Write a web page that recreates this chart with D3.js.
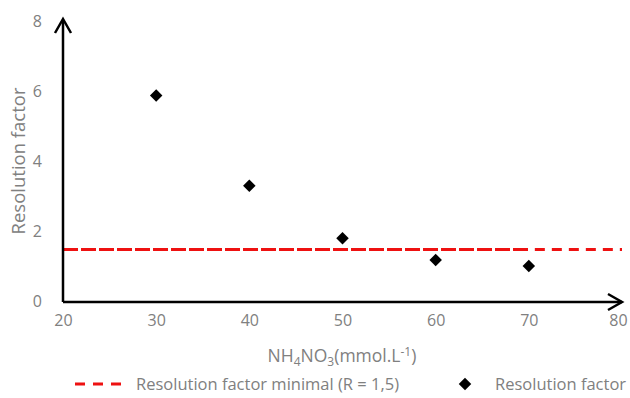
<!DOCTYPE html>
<html><head><meta charset="utf-8">
<script src="https://cdn.jsdelivr.net/npm/d3@7"></script>
<style>body{margin:0;background:#fff}text{font-family:"Open Sans","Liberation Sans",sans-serif;fill:#808080}</style>
</head><body><svg id="c" width="630" height="398"></svg>
<script>
const concentrations = [30, 40, 50, 60, 70];
const resolution = [5.9, 3.32, 1.82, 1.2, 1.03];
const minimalR = 1.5;
const minimalX = [20, 70, 80];
const xTicks = [20, 30, 40, 50, 60, 70, 80];
const yTicks = [0, 2, 4, 6, 8];

const svg = d3.select("#c");
const x = d3.scaleLinear().domain([20, 80]).range([63, 622]);
const y = d3.scaleLinear().domain([0, 8]).range([302, 22]);

// tick labels
const xAxis = d3.axisBottom(x).tickValues(xTicks).tickSize(0).tickPadding(13);
svg.append("g").attr("transform", "translate(0,302)").call(xAxis)
  .call(g => {
    g.select(".domain").remove();
    g.selectAll("text").attr("font-size", 16).attr("fill", "#808080").attr("font-family", null)
      .attr("dx", d => d === 80 ? -4 : 0);
  });
const yAxis = d3.axisLeft(y).tickValues(yTicks).tickSize(0).tickPadding(21);
svg.append("g").attr("transform", "translate(63,0)").call(yAxis)
  .call(g => { g.select(".domain").remove(); g.selectAll("text").attr("font-size", 16).attr("fill", "#808080").attr("font-family", null).attr("dy", "0.3em"); });

// red minimal line
svg.append("line").attr("x1", x(minimalX[0])).attr("x2", x(minimalX[1]))
  .attr("y1", y(minimalR)).attr("y2", y(minimalR))
  .attr("stroke", "#ee1111").attr("stroke-width", 3).attr("stroke-dasharray", "15,3");
svg.append("line").attr("x1", x(minimalX[1]) + 6).attr("x2", x(minimalX[2]))
  .attr("y1", y(minimalR)).attr("y2", y(minimalR))
  .attr("stroke", "#ee1111").attr("stroke-width", 3).attr("stroke-dasharray", "10,7");

// axes with arrows
const ax = svg.append("g").attr("stroke", "#000").attr("fill", "none").attr("stroke-width", 2.5);
ax.append("path").attr("d", `M${x(20)},${y(0)}V${y(8) - 2}`);
ax.append("path").attr("d", `M${x(20)},${y(0)}H${x(80)}`);
ax.append("path").attr("d", `M${x(20) - 8},${y(8) + 11}L${x(20)},${y(8) - 3}L${x(20) + 8},${y(8) + 11}`);
ax.append("path").attr("d", `M${x(80) - 14},${y(0) - 8}L${x(80)},${y(0)}L${x(80) - 14},${y(0) + 8}`);

// points
const diamond = d3.symbol().type(d3.symbolSquare).size(78);
svg.selectAll(".pt").data(concentrations).join("path").attr("class", "pt")
  .attr("d", diamond)
  .attr("transform", (d, i) => `translate(${x(d)},${y(resolution[i])}) rotate(45)`)
  .attr("fill", "#000");

// titles
svg.append("text").attr("x", 342).attr("y", 362).attr("text-anchor", "middle").attr("font-size", 17.5)
  .html('NH<tspan dy="4" font-size="12">4</tspan><tspan dy="-4">NO</tspan><tspan dy="4" font-size="12">3</tspan><tspan dy="-4">(mmol.L</tspan><tspan dy="-6" font-size="12">-1</tspan><tspan dy="6">)</tspan>');
svg.append("text").attr("transform", "translate(25,161) rotate(-90)").attr("text-anchor", "middle").attr("font-size", 18.5)
  .text("Resolution factor");

// legend
const lg = svg.append("g");
lg.append("line").attr("x1", 75).attr("x2", 121).attr("y1", 384).attr("y2", 384)
  .attr("stroke", "#ee1111").attr("stroke-width", 3).attr("stroke-dasharray", "10,8");
lg.append("text").attr("x", 136).attr("y", 390).attr("font-size", 16.5).text("Resolution factor minimal (R = 1,5)");
lg.append("path").attr("d", diamond).attr("transform", "translate(465,384) rotate(45)").attr("fill", "#000");
lg.append("text").attr("x", 495).attr("y", 390).attr("font-size", 16.5).text("Resolution factor");
</script></body></html>
